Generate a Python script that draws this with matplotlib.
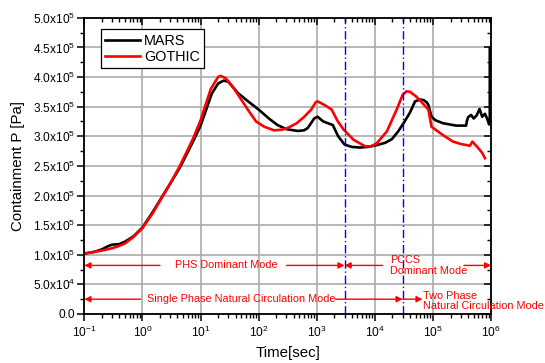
import numpy as np
import matplotlib
matplotlib.use("Agg")
import matplotlib.pyplot as plt
from matplotlib.ticker import FuncFormatter, LogLocator, MultipleLocator, NullFormatter

plt.rcParams['font.family'] = ['Liberation Sans', 'DejaVu Sans']
plt.rcParams['mathtext.default'] = 'regular'

# MARS (black)
t_mars = [0.1, 0.15, 0.2, 0.25, 0.3, 0.4, 0.5, 0.7, 1.0, 1.5, 2.0, 3, 4.4, 6, 7.5, 10,
          15.6, 20, 25, 30, 44, 60, 100, 150, 210, 300, 470, 600, 700, 900, 1030, 1290,
          1880, 2330, 3000, 4000, 5500, 7500, 10700, 15000, 19500, 25000, 31000, 40000,
          49000, 60000, 69000, 78000, 83000, 94000, 110000, 148000, 250000, 370000,
          380000, 400000, 450000, 500000, 560000, 630000, 700000, 780000, 850000,
          920000, 945000, 945000]
p_mars = [1.02e5, 1.05e5, 1.09e5, 1.14e5, 1.17e5, 1.18e5, 1.22e5, 1.31e5, 1.46e5, 1.72e5,
          1.92e5, 2.2e5, 2.47e5, 2.73e5, 2.92e5, 3.18e5, 3.72e5, 3.89e5, 3.94e5, 3.92e5,
          3.73e5, 3.62e5, 3.45e5, 3.30e5, 3.19e5, 3.12e5, 3.09e5, 3.10e5, 3.14e5, 3.30e5,
          3.33e5, 3.25e5, 3.19e5, 3.0e5, 2.86e5, 2.82e5, 2.81e5, 2.82e5, 2.85e5, 2.89e5,
          2.95e5, 3.08e5, 3.22e5, 3.40e5, 3.59e5, 3.62e5, 3.61e5, 3.57e5, 3.53e5, 3.33e5,
          3.27e5, 3.22e5, 3.18e5, 3.18e5, 3.25e5, 3.32e5, 3.36e5, 3.30e5, 3.35e5, 3.46e5,
          3.33e5, 3.38e5, 3.30e5, 3.20e5, 3.25e5, 4.49e5]

# GOTHIC (red)
t_goth = [0.1, 0.2, 0.3, 0.4, 0.5, 0.7, 1.0, 1.5, 2.0, 3, 4.4, 6, 7.5, 10, 15, 20, 22, 27,
          35, 50, 65, 90, 125, 185, 250, 315, 450, 610, 800, 950, 1030, 1400, 1800, 2300,
          2900, 4300, 6800, 8500, 10700, 16000, 23600, 30000, 35000, 40000, 50000, 59000,
          83000, 94000, 148000, 220000, 300000, 430000, 475000, 600000, 700000, 780000]
p_goth = [1.02e5, 1.07e5, 1.11e5, 1.15e5, 1.19e5, 1.30e5, 1.45e5, 1.70e5, 1.91e5, 2.2e5,
          2.5e5, 2.77e5, 2.97e5, 3.27e5, 3.80e5, 4.00e5, 4.02e5, 3.98e5, 3.85e5, 3.62e5,
          3.45e5, 3.25e5, 3.16e5, 3.10e5, 3.11e5, 3.14e5, 3.22e5, 3.33e5, 3.45e5, 3.57e5,
          3.59e5, 3.52e5, 3.45e5, 3.25e5, 3.11e5, 2.94e5, 2.83e5, 2.83e5, 2.88e5, 3.08e5,
          3.45e5, 3.70e5, 3.76e5, 3.75e5, 3.68e5, 3.61e5, 3.45e5, 3.16e5, 3.02e5, 2.91e5,
          2.87e5, 2.84e5, 2.91e5, 2.80e5, 2.72e5, 2.63e5]

mode_bounds = [3000, 30000]
red = '#ff0000'

fig = plt.figure(figsize=(5.45, 3.63), dpi=100)
ax = fig.add_axes([0.1547, 0.135, 0.7466, 0.816])

ax.plot(t_mars, p_mars, color='black', lw=1.9, label='MARS')
ax.plot(t_goth, p_goth, color=red, lw=1.9, label='GOTHIC')

for b in mode_bounds:
    ax.axvline(b, color='#0000ff', lw=1.0, ls=(0, (6, 2, 1, 2)))

ax.set_xscale('log')
ax.set_xlim(0.1, 1e6)
ax.set_ylim(0, 5e5)


def set_ticks(a):
    a.xaxis.set_major_locator(LogLocator(base=10, numticks=20))
    a.xaxis.set_minor_locator(LogLocator(base=10, subs=np.arange(2, 10), numticks=20))
    a.xaxis.set_minor_formatter(NullFormatter())
    a.yaxis.set_major_locator(MultipleLocator(0.5e5))
    a.yaxis.set_minor_locator(MultipleLocator(0.25e5))


set_ticks(ax)
ax.xaxis.set_major_formatter(FuncFormatter(lambda v, p: '10$^{%d}$' % round(np.log10(v))))


def yfmt(v, p):
    if v <= 0:
        return '0.0'
    e = int(np.floor(np.log10(v) + 1e-9))
    return '%.1fx10$^{%d}$' % (v / 10 ** e, e)


ax.yaxis.set_major_formatter(FuncFormatter(yfmt))

ax.grid(True, which='major', color='#ababab', lw=1.2)
ax.set_axisbelow(True)
ax.tick_params(which='both', direction='out', labelsize=8.6, colors='black')
ax.tick_params(which='major', length=5, width=1.1)
ax.tick_params(which='minor', length=3, width=1.0)
ax.tick_params(axis='y', which='both', pad=1.5)
ax.tick_params(axis='x', which='both', pad=3)
for s in ax.spines.values():
    s.set_linewidth(1.3)

# mirrored axis with inward ticks on top and right
ax2 = fig.add_axes(ax.get_position(), frameon=False)
ax2.set_xscale('log')
ax2.set_xlim(0.1, 1e6)
ax2.set_ylim(0, 5e5)
set_ticks(ax2)
ax2.tick_params(which='both', direction='in', top=True, right=True, bottom=False,
                left=False, labelbottom=False, labelleft=False)
ax2.tick_params(which='major', length=5, width=1.1)
ax2.tick_params(which='minor', length=3, width=1.0)
ax2.patch.set_visible(False)

ax.set_xlabel('Time[sec]', fontsize=10.8, labelpad=4)
ax.set_ylabel('Containment P [Pa]', fontsize=10.8, labelpad=6)

leg = ax2.legend(*ax.get_legend_handles_labels(), loc='upper left',
                 bbox_to_anchor=(0.040, 0.961), borderaxespad=0,
                 fontsize=10.4, frameon=True, fancybox=False, handlelength=2.4,
                 handletextpad=0.3, borderpad=0.3, labelspacing=0.15, framealpha=1)
leg.get_frame().set_edgecolor('black')
leg.get_frame().set_linewidth(0.9)

# mode annotations
arr = dict(arrowstyle='-|>', color=red, lw=1.0, mutation_scale=9, shrinkA=0, shrinkB=0)
fs = 7.8
ax.annotate('', xy=(0.1, 0.82e5), xytext=(2.0, 0.82e5), arrowprops=arr)
ax.text(3.7, 0.82e5, 'PHS Dominant Mode', color=red, fontsize=fs, va='center', ha='left')
ax.annotate('', xy=(3000, 0.82e5), xytext=(300, 0.82e5), arrowprops=arr)
ax.annotate('', xy=(3000, 0.82e5), xytext=(13500, 0.82e5), arrowprops=arr)
ax.text(18000, 0.82e5, 'PCCS\nDominant Mode', color=red, fontsize=fs, va='center',
        ha='left', linespacing=1.1)
ax.annotate('', xy=(1e6, 0.82e5), xytext=(3.4e5, 0.82e5), arrowprops=arr)

ax.annotate('', xy=(0.1, 0.25e5), xytext=(0.93, 0.25e5), arrowprops=arr)
ax.text(1.22, 0.25e5, 'Single Phase Natural Circulation Mode', color=red, fontsize=fs,
        va='center', ha='left')
ax.annotate('', xy=(30000, 0.25e5), xytext=(2100, 0.25e5), arrowprops=arr)
ax.annotate('', xy=(66000, 0.25e5), xytext=(30000, 0.25e5), arrowprops=arr)
ax.text(66000, 0.22e5, 'Two Phase\nNatural Circulation Mode', color=red, fontsize=fs,
        va='center', ha='left', linespacing=1.1)

fig.savefig('out.png', dpi=100)
